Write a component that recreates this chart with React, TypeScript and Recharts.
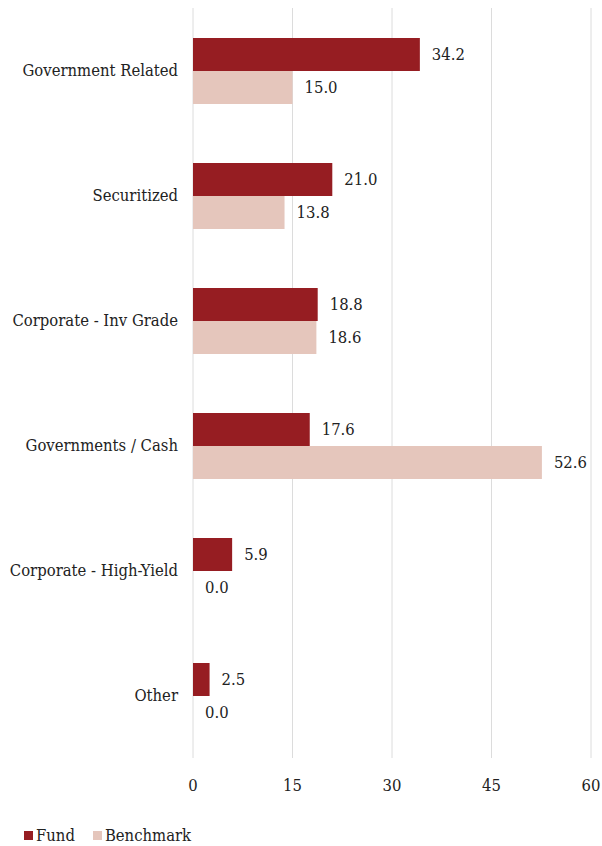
import { Bar, BarChart, CartesianGrid, LabelList, Legend, XAxis, YAxis } from "recharts";

const categories = [
  "Government Related",
  "Securitized",
  "Corporate - Inv Grade",
  "Governments / Cash",
  "Corporate - High-Yield",
  "Other",
];
const fund = [34.2, 21.0, 18.8, 17.6, 5.9, 2.5];
const benchmark = [15.0, 13.8, 18.6, 52.6, 0.0, 0.0];
const xTicks = [0, 15, 30, 45, 60];

const series = [
  { key: "fund", name: "Fund", color: "#961d22" },
  { key: "benchmark", name: "Benchmark", color: "#e5c6bc" },
];

const data = categories.map((name, i) => ({ name, fund: fund[i], benchmark: benchmark[i] }));

const font = "'DejaVu Serif Condensed', 'DejaVu Serif', serif";
const textColor = "#222";
const fs = 16.5;

function LegendContent() {
  return (
    <div style={{ display: "flex", gap: 18, fontFamily: font, fontSize: fs, color: textColor }}>
      {series.map((s) => (
        <div key={s.key} style={{ display: "flex", alignItems: "center", gap: 3 }}>
          <span style={{ width: 9, height: 9, background: s.color, display: "inline-block" }} />
          <span>{s.name}</span>
        </div>
      ))}
    </div>
  );
}

// draws the value even when the bar has (almost) no width
function valueLabel(props: any) {
  const { x, y, width, height, value } = props;
  return (
    <text
      x={x + width + 12}
      y={y + height / 2}
      dominantBaseline="central"
      fill={textColor}
      fontSize={fs}
      fontFamily={font}
    >
      {Number(value).toFixed(1)}
    </text>
  );
}

export default function App() {
  return (
    <div style={{ position: "absolute", left: 0, top: 0 }}>
      <BarChart
        width={602}
        height={846}
        data={data}
        layout="vertical"
        margin={{ top: 8, right: 11, bottom: 23, left: 0 }}
        barGap={0}
        barSize={33}
      >
        <CartesianGrid horizontal={false} stroke="#dcdcdc" />
        <XAxis
          type="number"
          domain={[0, 60]}
          ticks={xTicks}
          axisLine={false}
          tickLine={false}
          tickMargin={15}
          height={46}
          tick={{ fill: textColor, fontSize: fs, fontFamily: font }}
        />
        <YAxis
          type="category"
          dataKey="name"
          width={193}
          axisLine={false}
          tickLine={false}
          tickMargin={9}
          tick={{ fill: textColor, fontSize: fs, fontFamily: font }}
        />
        <Legend
          verticalAlign="bottom"
          align="left"
          content={<LegendContent />}
          wrapperStyle={{ left: 24, bottom: 1 }}
        />
        {series.map((s) => (
          <Bar
            key={s.key}
            dataKey={s.key}
            name={s.name}
            fill={s.color}
            minPointSize={0.01}
            isAnimationActive={false}
          >
            <LabelList dataKey={s.key} content={valueLabel} />
          </Bar>
        ))}
      </BarChart>
    </div>
  );
}
